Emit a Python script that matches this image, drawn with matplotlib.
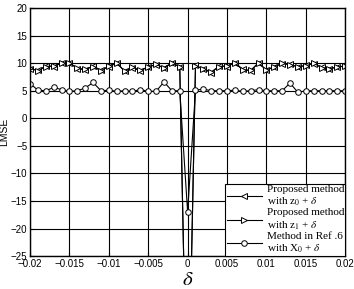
import numpy as np
import matplotlib.pyplot as plt

# delta grid (step 0.001) and LMSE values
delta = np.round(np.arange(-0.02, 0.0201, 0.001), 3)

lmse_z0 = [9.0, 8.7, 9.5, 9.4, 10.1, 10.1, 9.0, 8.8, 9.5, 8.7,
           9.4, 10.0, 8.6, 9.2, 8.6, 9.4, 9.7, 9.2, 10.0, 9.4,
           -60.0,
           9.6, 8.9, 8.3, 9.5, 9.4, 10.1, 8.9, 8.6, 10.1, 8.7,
           9.4, 9.9, 9.8, 9.3, 9.6, 9.9, 9.3, 8.9, 9.4, 9.4]
lmse_z1 = [9.1, 8.6, 9.4, 9.5, 10.0, 10.0, 9.1, 8.9, 9.4, 8.6,
           9.5, 10.1, 8.5, 9.3, 8.7, 9.3, 9.8, 9.1, 10.1, 9.3,
           -60.0,
           9.5, 9.0, 8.4, 9.4, 9.5, 10.0, 8.8, 8.7, 10.0, 8.8,
           9.3, 10.0, 9.7, 9.4, 9.5, 10.0, 9.2, 9.0, 9.3, 9.5]
lmse_ref6 = [6.3, 5.1, 5.0, 5.6, 5.2, 4.9, 5.0, 5.5, 6.5, 5.0,
             5.1, 4.9, 5.0, 4.9, 5.2, 4.9, 4.9, 6.6, 5.0, 5.0,
             -17.0,
             5.1, 5.3, 5.0, 5.0, 5.0, 5.1, 4.9, 5.0, 5.2, 5.0,
             5.0, 5.0, 6.4, 4.7, 5.0, 5.0, 5.0, 5.0, 5.0, 5.0]

labels = ["Proposed method\nwith z$_0$ + $\\delta$",
          "Proposed method\nwith z$_1$ + $\\delta$",
          "Method in Ref .6\nwith X$_0$ + $\\delta$"]

plt.rcParams["font.family"] = ["Liberation Sans", "DejaVu Sans"]
plt.rcParams["mathtext.fontset"] = "stix"

fig = plt.figure(figsize=(3.54, 2.89), dpi=100)
ax = fig.add_axes([0.085, 0.114, 0.89, 0.858])

kw = dict(color="black", lw=0.8, ms=4, mfc="white", mec="black", mew=0.7)
ax.plot(delta, lmse_z0, marker="<", label=labels[0], **kw)
ax.plot(delta, lmse_z1, marker=">", label=labels[1], **kw)
ax.plot(delta, lmse_ref6, marker="o", label=labels[2], **kw)

ax.set_xlim(-0.02, 0.02)
ax.set_ylim(-25, 20)
ax.set_xticks(np.arange(-0.02, 0.0201, 0.005))
ax.set_xticklabels(["\u22120.02", "\u22120.015", "\u22120.01", "\u22120.005", "0",
                    "0.005", "0.01", "0.015", "0.02"])
ax.set_yticks(np.arange(-25, 21, 5))
ax.tick_params(direction="in", labelsize=7, length=3, pad=2)
ax.grid(True, color="black", lw=0.8)
for s in ax.spines.values():
    s.set_linewidth(1.0)

ax.set_ylabel("LMSE", fontsize=7.5, labelpad=1)
ax.set_xlabel(r"$\delta$", fontsize=15, labelpad=1)

leg = ax.legend(loc="lower right", prop={"family": "Liberation Serif", "size": 8},
                fancybox=False, framealpha=1, edgecolor="black",
                borderpad=0.1, labelspacing=0.0, handlelength=3.2,
                handletextpad=0.4, borderaxespad=0.0)
leg.get_frame().set_linewidth(0.8)

fig.savefig("out.png", dpi=100)
